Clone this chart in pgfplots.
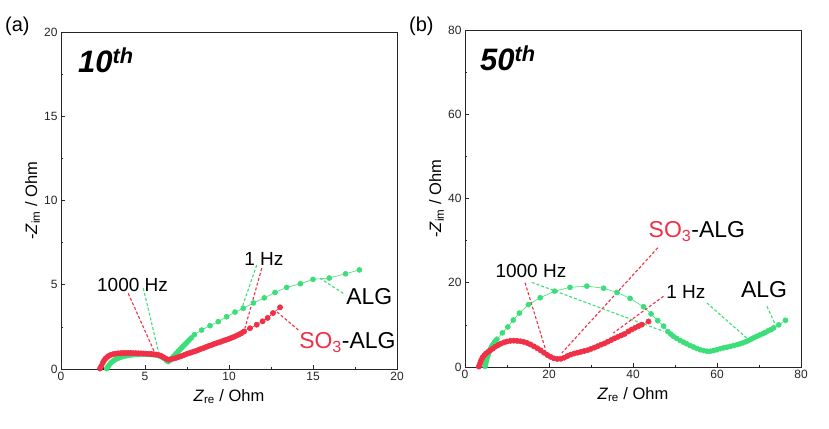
\documentclass[border=0pt]{standalone}
\usepackage{fontspec}
\setmainfont{Liberation Sans}
\usepackage{pgfplots}
\pgfplotsset{compat=1.18}
\definecolor{algg}{RGB}{60,222,122}
\definecolor{sor}{RGB}{240,48,70}
\pgfplotsset{myax/.style={scale only axis, width=336pt, height=337pt, anchor=south west,
  tick align=inside, xtick pos=bottom, ytick pos=left, major tick length=4pt, minor tick length=2pt,
  minor tick num=1, axis line style={line width=0.8pt, black!85},
  every tick/.style={black!85, line width=0.7pt},
  ticklabel style={font=\fontsize{12}{14}\selectfont, text=black!85},
  /pgf/number format/assume math mode=true,
  label style={font=\fontsize{16.5}{18}\selectfont},
  xlabel style={at={(axis description cs:0.5,0)}, anchor=north, inner sep=0pt, yshift=-20pt},
  ylabel style={at={(axis description cs:-0.0625,0.5)}, anchor=south, inner sep=0pt},
  xlabel={\textit{Z}\textsubscript{re} / Ohm}, ylabel={-\textit{Z}\textsubscript{im} / Ohm}},
  gser/.style={color=algg, line width=0.6pt, mark=*, mark size=2.5pt, mark options={fill=algg, draw=algg}},
  rser/.style={color=sor, line width=0.6pt, mark=*, mark size=2.6pt, mark options={fill=sor, draw=sor}}}
\tikzset{
  gdash/.style={algg, line width=1.1pt, dash pattern=on 3pt off 2pt},
  rdash/.style={sor, line width=1.1pt, dash pattern=on 3pt off 2pt},
  hz/.style={anchor=base, inner sep=0pt, font=\fontsize{19}{22}\selectfont},
  lab/.style={anchor=base, inner sep=0pt, font=\fontsize{23}{26}\selectfont},
  cyc/.style={anchor=base west, inner sep=0pt, font=\fontsize{31}{34}\selectfont\bfseries\itshape}}
\begin{document}
\begin{tikzpicture}
\path[use as bounding box] (0pt,0pt) rectangle (829pt,428pt);
\node[anchor=west, inner sep=0pt, font=\fontsize{20}{24}\selectfont] at (5pt,402pt) {(a)};
\node[anchor=west, inner sep=0pt, font=\fontsize{20}{24}\selectfont] at (409pt,402pt) {(b)};
\begin{axis}[myax, at={(61pt,59pt)}, xmin=0, xmax=20, ymin=0, ymax=20,
  xtick={0,5,10,15,20}, ytick={0,5,10,15,20}]
\addplot[gser] coordinates {
(2.72,0.02)(2.78,0.12)(2.85,0.22)(2.93,0.32)(3.02,0.41)(3.12,0.49)(3.23,0.56)(3.35,0.62)
(3.48,0.67)(3.62,0.72)(3.77,0.76)(3.92,0.79)(4.08,0.82)(4.24,0.84)(4.40,0.86)(4.56,0.87)
(4.72,0.88)(4.88,0.88)(5.04,0.88)(5.20,0.87)(5.36,0.86)(5.52,0.84)(5.68,0.82)(5.84,0.78)
(6.00,0.71)(6.14,0.62)(6.27,0.52)(6.38,0.44)(6.48,0.52)(6.58,0.62)(6.68,0.73)(6.78,0.84)
(6.88,0.94)(6.98,1.05)(7.08,1.15)(7.18,1.26)(7.28,1.36)(7.39,1.47)(7.50,1.58)(7.62,1.71)
(7.75,1.84)(7.94,2.04)(8.37,2.31)(8.87,2.57)(9.36,2.81)(9.86,3.10)(10.36,3.38)(10.85,3.60)
(11.45,3.92)(12.10,4.22)(12.74,4.54)(13.43,4.84)(14.25,5.06)(15.00,5.32)(15.97,5.40)
(16.94,5.65)(17.76,5.88)};
\addplot[rser] coordinates {
(2.32,0.03)(2.40,0.18)(2.48,0.35)(2.56,0.50)(2.65,0.62)(2.75,0.71)(2.85,0.78)(2.97,0.84)
(3.10,0.88)(3.25,0.91)(3.40,0.93)(3.55,0.94)(3.70,0.95)(3.85,0.95)(4.00,0.95)(4.15,0.95)
(4.30,0.94)(4.45,0.94)(4.60,0.93)(4.75,0.93)(4.90,0.92)(5.05,0.91)(5.20,0.90)(5.35,0.89)
(5.50,0.88)(5.65,0.86)(5.80,0.83)(5.95,0.78)(6.10,0.70)(6.25,0.61)(6.40,0.55)(6.55,0.58)
(6.70,0.62)(6.85,0.66)(7.00,0.71)(7.15,0.76)(7.30,0.82)(7.45,0.88)(7.60,0.93)(7.75,0.98)
(7.90,1.03)(8.05,1.08)(8.20,1.14)(8.35,1.20)(8.50,1.25)(8.65,1.31)(8.80,1.37)(8.95,1.42)
(9.10,1.48)(9.25,1.53)(9.40,1.58)(9.55,1.63)(9.70,1.69)(9.85,1.74)(10.00,1.79)(10.15,1.85)
(10.30,1.91)(10.45,1.98)(10.60,2.05)(10.75,2.13)(10.90,2.23)(11.25,2.42)(11.65,2.63)
(12.00,2.83)(12.30,3.03)(12.62,3.32)(13.04,3.66)};
\draw[rdash] (axis cs:4.0,4.49) -- (axis cs:5.6,0.93);
\draw[gdash] (axis cs:4.9,4.79) -- (axis cs:5.85,0.83);
\draw[gdash] (axis cs:11.65,6.17) -- (axis cs:10.76,3.6);
\draw[rdash] (axis cs:11.95,5.98) -- (axis cs:10.95,2.42);
\draw[gdash] (axis cs:16.8,4.49) -- (axis cs:15.42,5.38);
\draw[rdash] (axis cs:14.13,2.31) -- (axis cs:12.84,3.40);
\node[hz] at (axis cs:4.26,4.59) {1000 Hz};
\node[hz] at (axis cs:12.08,6.17) {1 Hz};
\node[lab] at (axis cs:18.35,3.80) {ALG};
\node[lab] at (axis cs:17.05,1.23) {\textcolor{sor}{SO\textsubscript{3}}-ALG};
\node[cyc] at (axis description cs:0.0506,0.881) {10\textsuperscript{th}};
\end{axis}
\begin{axis}[myax, at={(465pt,61pt)}, xmin=0, xmax=80, ymin=0, ymax=80,
  xtick={0,20,40,60,80}, ytick={0,20,40,60,80}]
\addplot[gser] coordinates {
(4.77,0.14)(4.90,0.70)(5.05,1.30)(5.20,1.90)(5.38,2.50)(5.58,3.10)(5.80,3.70)(6.05,4.25)
(6.32,4.80)(6.62,5.30)(6.95,5.80)(7.30,6.25)(7.60,6.60)(8.9,8.1)(10.2,9.5)(11.5,11.15)
(12.95,12.8)(15.1,14.8)(17.9,16.45)(21.35,18.0)(25.0,18.9)(29.0,19.2)(33.0,18.7)(36.2,17.7)
(39.3,16.3)(42.5,14.3)(44.3,12.6)(45.9,11.0)(47.3,9.7)(48.3,8.4)(49.0,7.8)(49.6,7.3)
(50.4,6.8)(51.2,6.3)(52.0,5.9)(52.8,5.5)(53.6,5.1)(54.4,4.75)(55.2,4.4)(56.0,4.1)(56.8,3.9)
(57.6,3.75)(58.4,3.75)(59.2,3.9)(60.0,4.1)(60.8,4.35)(61.6,4.55)(62.4,4.7)(63.2,4.9)
(64.0,5.1)(64.8,5.3)(65.5,5.5)(66.2,5.75)(66.9,6.0)(67.5,6.3)(68.2,6.65)(68.9,7.0)(69.5,7.3)
(70.2,7.6)(70.9,7.9)(71.5,8.2)(72.2,8.6)(72.9,8.9)(73.5,9.3)(74.7,10.0)(76.3,11.1)};
\addplot[rser] coordinates {
(3.3,0.10)(3.5,0.6)(3.7,1.2)(3.9,1.7)(4.2,2.3)(4.6,2.8)(5.0,3.2)(5.5,3.6)(6.0,3.95)
(6.6,4.35)(7.2,4.8)(7.9,5.2)(8.6,5.55)(9.3,5.85)(10.0,6.05)(10.8,6.2)(11.6,6.25)(12.4,6.2)
(13.2,6.1)(14.0,5.95)(14.8,5.7)(15.6,5.35)(16.4,4.9)(17.2,4.45)(18.0,3.95)(18.8,3.4)
(19.6,2.85)(20.4,2.4)(21.2,2.05)(22.0,1.9)(22.8,1.95)(23.6,2.2)(24.4,2.6)(25.2,2.95)
(26.0,3.2)(26.8,3.4)(27.6,3.6)(28.4,3.8)(29.2,4.0)(30.0,4.3)(30.8,4.6)(31.6,4.95)(32.4,5.3)
(33.2,5.6)(34.0,6.0)(34.8,6.4)(35.6,6.8)(36.4,7.15)(37.2,7.5)(38.0,7.85)(38.9,8.45)
(39.7,8.9)(40.5,9.3)(41.3,9.7)(42.1,10.05)(43.7,10.8)};
\draw[rdash] (axis cs:14.3,20.0) -- (axis cs:19.07,4.5);
\draw[gdash] (axis cs:15.9,20.1) -- (axis cs:47.26,8.46);
\draw[rdash] (axis cs:45.9,28.3) -- (axis cs:23.05,3.33);
\draw[rdash] (axis cs:47.26,16.8) -- (axis cs:35.34,8.08);
\draw[gdash] (axis cs:57.6,15.2) -- (axis cs:67.5,6.5);
\draw[gdash] (axis cs:71.9,14.4) -- (axis cs:73.9,10.05);
\node[hz] at (axis cs:15.69,21.15) {1000 Hz};
\node[hz] at (axis cs:52.6,16.16) {1 Hz};
\node[lab] at (axis cs:71.2,16.4) {ALG};
\node[lab] at (axis cs:55.2,30.66) {\textcolor{sor}{SO\textsubscript{3}}-ALG};
\node[cyc] at (axis description cs:0.0446,0.881) {50\textsuperscript{th}};
\end{axis}
\end{tikzpicture}
\end{document}
